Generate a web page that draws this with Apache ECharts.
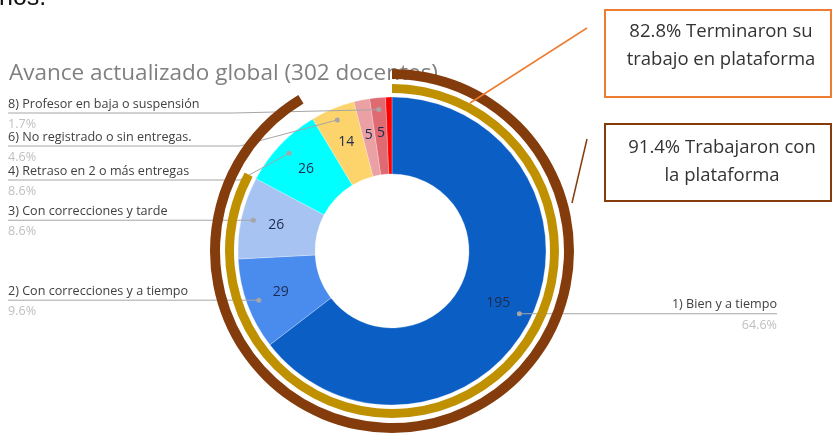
<!DOCTYPE html>
<html><head><meta charset="utf-8">
<script src="https://cdn.jsdelivr.net/npm/echarts@6/dist/echarts.min.js"></script>
<style>html,body{margin:0;padding:0;background:#fff}#c{width:833px;height:434px}</style>
</head><body><div id="c"></div>
<script>
// ---- data ----
const titleText = 'Avance actualizado global (302 docentes)';
const categories = ['1) Bien y a tiempo', '2) Con correcciones y a tiempo', '3) Con correcciones y tarde',
  '4) Retraso en 2 o más entregas', '6) No registrado o sin entregas.', '5)', '8) Profesor en baja o suspensión', '7)'];
const values = [195, 29, 26, 26, 14, 5, 5, 2];
const showNameLabel = [true, true, true, true, true, false, true, false];
const showValueLabel = [true, true, true, true, true, true, true, false];
const ringPercents = [82.8, 91.4];
const ringTexts = ['Terminaron su\ntrabajo en plataforma', 'Trabajaron con\nla plataforma'];

// ---- styles / layout ----
const FONT = '"Open Sans", "Liberation Sans", sans-serif';
const sliceColors = ['#0b5ec4', '#4a8bee', '#a6c3f2', '#00ffff', '#fdd46c', '#eba0a4', '#e06a72', '#ff0000'];
const ringColors = ['#bf9000', '#843c0c'];
const CENTER = [392, 251];
const DONUT_R = [77, 154];
const DOT_R = [77, 142];
const RING_R = [[158, 167], [172, 182]];
const labelSpec = {
  0: { side: 'right', endX: 777 },
  1: { endX: 8 },
  2: { endX: 8 },
  3: { lineY: 180, bendX: 240, endX: 8 },
  4: { lineY: 146, bendX: 240, endX: 8 },
  6: { lineY: 113, bendX: 233, endX: 8 }
};
const total = values.reduce((a, b) => a + b, 0);

const chart = echarts.init(document.getElementById('c'), null, { renderer: 'canvas' });

const sliceData = values.map((v, i) => ({ name: categories[i], value: v, itemStyle: { color: sliceColors[i] } }));

function ringSeries(k) {
  return {
    type: 'pie', z: 10, silent: true, center: CENTER, radius: RING_R[k], startAngle: 90, clockwise: true,
    label: { show: false }, labelLine: { show: false }, emphasis: { disabled: true },
    data: [
      { value: ringPercents[k], itemStyle: { color: ringColors[k] } },
      { value: 100 - ringPercents[k], itemStyle: { color: 'rgba(0,0,0,0)' } }
    ]
  };
}

const option = {
  backgroundColor: '#fff',
  animation: false,
  title: {
    text: titleText, left: 9, top: 59, padding: 0, z: 0,
    textStyle: { fontFamily: FONT, fontSize: 22.5, fontWeight: 'normal', color: '#808080', lineHeight: 30 }
  },
  graphic: [
    { type: 'text', left: -1, top: -14, z: 0, style: { text: 'nos.', fontFamily: '"Liberation Sans", sans-serif', fontSize: 25, fill: '#111' } },
    { type: 'line', z: 20, shape: { x1: 587, y1: 28, x2: 470, y2: 103 }, style: { stroke: '#ed7d31', lineWidth: 1.5 } },
    { type: 'line', z: 20, shape: { x1: 587, y1: 139, x2: 572, y2: 203 }, style: { stroke: '#843c0c', lineWidth: 1.5 } },
    { type: 'rect', z: 20, shape: { x: 605, y: 10, width: 226, height: 87 }, style: { fill: '#fff', stroke: '#ed7d31', lineWidth: 2 } },
    { type: 'rect', z: 20, shape: { x: 605, y: 124, width: 226, height: 77 }, style: { fill: '#fff', stroke: '#843c0c', lineWidth: 2 } },
    { type: 'text', z: 21, style: { text: ringPercents[0] + '% ' + ringTexts[0], x: 721, y: 46, align: 'center', verticalAlign: 'middle', fontFamily: FONT, fontSize: 18.5, lineHeight: 28, fill: '#333' } },
    { type: 'text', z: 21, style: { text: ringPercents[1] + '% ' + ringTexts[1], x: 722, y: 162, align: 'center', verticalAlign: 'middle', fontFamily: FONT, fontSize: 18.5, lineHeight: 28, fill: '#333' } }
  ],
  series: [
    ringSeries(0),
    ringSeries(1),
    {
      type: 'pie', z: 3, silent: true, center: CENTER, radius: DONUT_R, startAngle: 90, clockwise: true,
      avoidLabelOverlap: false, emphasis: { disabled: true },
      itemStyle: { borderColor: 'rgba(255,255,255,0.5)', borderWidth: 0.5 },
      label: { show: true, position: 'inside', formatter: '{c}', color: '#1c2b4f', fontFamily: FONT, fontSize: 14 },
      labelLine: { show: false },
      data: sliceData.map((d, i) => Object.assign({}, d, { label: { show: showValueLabel[i] } }))
    },
    {
      // leader lines + category labels
      type: 'pie', z: 4, silent: true, center: CENTER, radius: DOT_R, startAngle: 90, clockwise: true,
      avoidLabelOverlap: false, emphasis: { disabled: true },
      itemStyle: { color: 'rgba(0,0,0,0)' },
      label: {
        show: true, position: 'outside',
        formatter: p => '{n|' + p.name + '}\n{p|' + (p.value / total * 100).toFixed(1) + '%}',
        rich: {
          n: { fontFamily: FONT, fontSize: 12.6, color: '#404040', lineHeight: 18 },
          p: { fontFamily: FONT, fontSize: 12.6, color: '#bfbfbf', lineHeight: 23 }
        }
      },
      labelLine: { show: true, length: 10, length2: 10, smooth: false, lineStyle: { color: '#a6a6a6', width: 1 } },
      labelLayout: function (p) {
        const s = labelSpec[p.dataIndex];
        if (!s || !p.labelLinePoints) return {};
        const p0 = p.labelLinePoints[0];
        const lineY = s.lineY != null ? s.lineY : p0[1];
        const mid = s.bendX != null ? [s.bendX, lineY] : [s.endX, lineY];
        const pts = [p0, mid, [s.endX, lineY]];
        return {
          x: s.endX, y: lineY - 18, align: s.side === 'right' ? 'right' : 'left', verticalAlign: 'top',
          labelLinePoints: pts
        };
      },
      data: sliceData.map((d, i) => ({ name: d.name, value: d.value, label: { show: showNameLabel[i] }, labelLine: { show: showNameLabel[i] } }))
    },
    {
      // dots at leader-line starts
      type: 'pie', z: 5, silent: true, center: CENTER, radius: DOT_R, startAngle: 90, clockwise: true,
      avoidLabelOverlap: false, emphasis: { disabled: true },
      itemStyle: { color: 'rgba(0,0,0,0)' },
      label: { show: true, position: 'outside', formatter: ' ', width: 5, height: 5, padding: 0, borderRadius: 3, backgroundColor: '#a6a6a6', fontSize: 1 },
      labelLine: { show: true, length: 1, length2: 1, lineStyle: { opacity: 0 } },
      labelLayout: function (p) {
        if (!p.labelLinePoints) return {};
        const p0 = p.labelLinePoints[0];
        return { x: p0[0], y: p0[1], align: 'center', verticalAlign: 'middle' };
      },
      data: sliceData.map((d, i) => ({ name: d.name, value: d.value, label: { show: showNameLabel[i] }, labelLine: { show: showNameLabel[i] } }))
    }
  ]
};
chart.setOption(option);
</script>
</body></html>
